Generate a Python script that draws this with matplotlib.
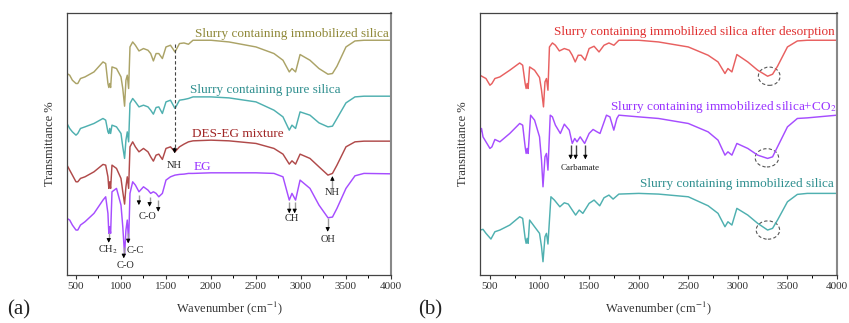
import matplotlib
matplotlib.use("Agg")
import matplotlib.pyplot as plt
from matplotlib.patches import Ellipse

plt.rcParams['font.family'] = ['Liberation Serif', 'DejaVu Serif']
plt.rcParams['mathtext.fontset'] = 'stix'

# ---------------- Panel (a) data ----------------
wn_a = [400, 430, 460, 500, 520, 550, 600, 700, 800, 830, 855, 865, 875, 885, 900, 950, 1000, 1020, 1040,
        1055, 1070, 1085, 1100, 1130, 1160, 1200, 1250, 1300, 1330, 1360, 1390, 1420, 1460, 1500, 1550,
        1600, 1650, 1700, 1750, 1800, 2000, 2200, 2500, 2700, 2800, 2870, 2900, 2940, 2990, 3100, 3200,
        3300, 3350, 3400, 3500, 3600, 3700, 4000]
eg = [56.7, 55, 50, 45, 45, 50, 53.3, 61.7, 75, 78.3, 61.7, 41.7, 48.3, 41.7, 83.3, 86.7, 70, 48.3, 20,
      45, 55, 33.3, 81.7, 93.3, 90, 83.3, 88.3, 85, 81.7, 83.3, 81.7, 78.3, 81.7, 95, 98.3,
      100, 100.7, 101, 101.7, 101.7, 102.3, 102.3, 102.3, 101.7, 98.3, 75, 81.7, 75, 95, 86.7, 70,
      57.3, 58, 66.7, 86.7, 99.3, 101.7, 101.3]
des_eg = [110, 105, 100, 93.3, 93.3, 96.7, 98.3, 103.3, 110.7, 110, 98.3, 86.7, 93.3, 86.7, 110, 106.7, 96.7, 83.3, 71,
          88.3, 98.3, 86.7, 128.3, 133.3, 128.3, 123.3, 126.7, 123.3, 118.3, 114, 120, 121, 115.7, 126.7, 128.3,
          123.3, 128.3, 131, 133.3, 134.3, 135, 134.3, 131.7, 126.7, 121, 111, 114.3, 111, 121, 116.7, 108.3,
          100, 101.7, 110, 128.3, 133.3, 134, 134]
pure_silica = [151.7, 146.7, 143.3, 140, 141.7, 146.7, 148.3, 151.7, 156.7, 155, 143.3, 141.7, 146.7, 141.7, 150, 148.3, 141.7, 128.3, 116.7,
               135, 143.3, 133.3, 171.7, 176.7, 173.3, 168.3, 170, 168.3, 165, 161, 167.7, 168.3, 161.7, 173.3, 175,
               166.7, 175, 175.7, 176.7, 178.3, 178.3, 177.3, 173.3, 165, 158.3, 145, 150, 146.7, 163.3, 160, 152.3,
               148.3, 149, 156.7, 172.3, 178.3, 179, 179]
immob_silica = [201.7, 200, 195, 191.7, 191.7, 196.7, 198.3, 203.3, 213.3, 211.7, 191.7, 187.7, 191.7, 187.7, 208.3, 206.7, 198.3, 186.7, 169,
                195, 200, 186.7, 228.3, 233.3, 230, 224.3, 226.7, 225, 221.7, 214.3, 221.7, 221.7, 216.7, 228.3, 230,
                223.3, 231.7, 232.3, 231, 235, 235, 233.3, 228.3, 221.7, 215, 203.3, 206.7, 203.3, 220.7, 215, 206.7,
                201, 201.7, 209, 228.3, 234.3, 235, 235]

# ---------------- Panel (b) data ----------------
wn_b_red = wn_a
after_desorption = [200, 198.3, 196.7, 190, 191.7, 196.7, 198.3, 205, 212.3, 210, 191.7, 186.7, 191.7, 186.7, 208.3, 205, 197.7, 185, 168.3,
                    193.3, 196.7, 185, 228.3, 232.3, 230, 224.3, 226.7, 225, 220, 213.3, 220, 220, 215, 226.7, 229,
                    223.3, 230, 232.3, 230, 235, 235, 233.3, 228.3, 220, 213.3, 201.7, 206.7, 203.3, 220.7, 213.3, 205,
                    199, 201, 209, 228.3, 234.3, 235, 235]
wn_b_co2 = [400, 415, 430, 460, 500, 520, 550, 600, 700, 750, 800, 830, 855, 865, 875, 885, 910, 950, 1000, 1020,
            1035, 1055, 1070, 1085, 1108, 1130, 1160, 1210, 1250, 1300, 1330, 1355, 1378, 1410, 1455, 1500, 1540,
            1580, 1610, 1675, 1710, 1749, 1780, 1800, 2000, 2200, 2500, 2700, 2800, 2870, 2900, 2940, 2990, 3100,
            3200, 3300, 3350, 3400, 3500, 3600, 3700, 4000]
with_co2 = [141.7, 146.7, 138.3, 133.3, 126.7, 128.3, 135.7, 133.3, 141.7, 146.7, 151.7, 150, 128.3, 121.7, 126.7, 121.7, 160, 155, 138.3, 115,
            88.3, 118.3, 121.7, 105, 160, 158.3, 150, 141.7, 151, 145, 131.7, 136.7, 133.3, 138.3, 131.7, 141.7, 145.7,
            143.3, 141.7, 160, 158.3, 145, 156.7, 160, 158.3, 156.7, 151.7, 143.3, 135, 120, 123.3, 120, 131.7, 126.7,
            120, 116.7, 118.3, 128.3, 148.3, 156.7, 157.3, 160]
wn_b_teal = [400, 430, 460, 510, 550, 600, 700, 800, 830, 855, 865, 875, 885, 900, 950, 1000, 1020, 1035, 1055, 1070,
             1085, 1115, 1150, 1205, 1250, 1290, 1330, 1364, 1400, 1437, 1500, 1550, 1607, 1650, 1700, 1742, 1800,
             2000, 2200, 2500, 2700, 2800, 2870, 2900, 2940, 2990, 3100, 3200, 3300, 3350, 3400, 3500, 3600, 3700, 4000]
immob_b = [45, 45.7, 41.7, 36, 43.3, 45, 50, 58.3, 56.7, 36.7, 31.7, 36.7, 31.7, 55, 48.3, 41.7, 28.3, 13.3, 38.3, 41.7,
           31, 78.3, 75, 68.3, 72.3, 71, 65, 60, 65, 61.7, 71.7, 75, 69.3, 77.3, 80, 76, 81,
           81.7, 81, 78.3, 69.3, 61.7, 48.3, 53.3, 50, 66.7, 60, 51.7, 45, 46.7, 55, 73.3, 80.7, 81.7, 81.7]

xticks = [500, 1000, 1500, 2000, 2500, 3000, 3500, 4000]

C_OLIVE, C_OLIVE_T = '#aba367', '#8f8838'
C_TEAL, C_TEAL_T = '#4fb0b0', '#2f8f8f'
C_DRED, C_DRED_T = '#b04a4a', '#a02525'
C_PURP, C_PURP_T = '#a64dff', '#9933ff'
C_RED, C_RED_T = '#e86060', '#e03030'

fig = plt.figure(figsize=(8.49, 3.23), dpi=100)
ax_a = fig.add_axes([0.0789, 0.1486, 0.3816, 0.8112])
ax_b = fig.add_axes([0.5654, 0.1486, 0.4205, 0.8112])


def style(ax):
    ax.set_xlim(400, 4000)
    ax.set_ylim(0, 262.3)
    ax.set_xticks(xticks)
    ax.set_xticks(range(750, 4000, 500), minor=True)
    ax.set_yticks([])
    ax.tick_params(axis='x', direction='out', length=3, width=0.8, labelsize=8, colors='#333333', pad=2)
    ax.tick_params(axis='x', which='minor', direction='out', length=1.8, width=0.7)
    for s in ax.spines.values():
        s.set_color('#444444')
        s.set_linewidth(0.9)
    ax.spines['right'].set_color('#888888')
    ax.spines['right'].set_linewidth(1.5)
    ax.set_xlabel('Wavenumber (cm$^{-1}$)', fontsize=9, labelpad=6, color='#333333')
    ax.set_ylabel('Transmittance %', fontsize=9, labelpad=8, color='#333333')


lw = 1.05
ax_a.plot(wn_a, immob_silica, color=C_OLIVE, lw=lw)
ax_a.plot(wn_a, pure_silica, color=C_TEAL, lw=lw)
ax_a.plot(wn_a, des_eg, color=C_DRED, lw=lw)
ax_a.plot(wn_a, eg, color=C_PURP, lw=lw)
style(ax_a)

fs = 9.5
ax_a.text(3975, 241.7, 'Slurry containing immobilized silica', color=C_OLIVE_T, fontsize=fs, ha='right', va='center')
ax_a.text(1771, 185, 'Slurry containing pure silica', color=C_TEAL_T, fontsize=fs, ha='left', va='center')
ax_a.text(1793, 141, 'DES-EG mixture', color=C_DRED_T, fontsize=fs, ha='left', va='center')
ax_a.text(1812, 108.3, 'EG', color=C_PURP_T, fontsize=fs, ha='left', va='center')


def arrow(ax, x, y0, y1, shaft='#9a9a9a'):
    # gray shaft, black head
    d = 4.0 if y1 < y0 else -4.0
    ax.plot([x, x], [y0, y1 + d], color=shaft, lw=1.0, solid_capstyle='butt')
    ax.annotate('', xy=(x, y1), xytext=(x, y1 + d),
                arrowprops=dict(arrowstyle='-|>', ec='black', fc='black', lw=0.6,
                                mutation_scale=6, shrinkA=0, shrinkB=0))


afs = 7.5
# CH2
arrow(ax_a, 864, 41.7, 32.3)
ax_a.text(853, 25, 'CH$_2$', fontsize=afs, ha='center', va='center', color='#222222')
# C-O (1040)
arrow(ax_a, 1031, 28.3, 16.7)
ax_a.text(1050, 10, 'C-O', fontsize=afs, ha='center', va='center', color='#222222')
# C-C
arrow(ax_a, 1080, 41.7, 31.7)
ax_a.text(1161, 25, 'C-C', fontsize=afs, ha='center', va='center', color='#222222')
# C-O triplet
arrow(ax_a, 1199, 80, 70)
arrow(ax_a, 1318, 78.3, 68.3)
arrow(ax_a, 1414, 75, 63.3)
ax_a.text(1299, 58.3, 'C-O', fontsize=afs, ha='center', va='center', color='#222222')
# CH
arrow(ax_a, 2870, 73.3, 61.7)
arrow(ax_a, 2930, 73.3, 61.7)
ax_a.text(2900, 56.7, 'CH', fontsize=afs, ha='center', va='center', color='#222222')
# OH
arrow(ax_a, 3297, 56.7, 43.3)
ax_a.text(3305, 35.7, 'OH', fontsize=afs, ha='center', va='center', color='#222222')
# NH up
arrow(ax_a, 3349, 86.7, 99)
ax_a.text(3342, 82.3, 'NH', fontsize=afs, ha='center', va='center', color='#222222')
# NH dashed
ax_a.plot([1596, 1596], [231.7, 126], ls=(0, (3, 2)), color='#444444', lw=0.8)
ax_a.annotate('', xy=(1596, 121.7), xytext=(1596, 127),
              arrowprops=dict(arrowstyle='-|>', ec='black', fc='black', lw=0.8,
                              mutation_scale=6, shrinkA=0, shrinkB=0))
ax_a.text(1596, 110, 'NH', fontsize=afs, ha='center', va='center', color='#222222')

# ---------------- Panel (b) ----------------
ax_b.plot(wn_b_red, after_desorption, color=C_RED, lw=lw)
ax_b.plot(wn_b_co2, with_co2, color=C_PURP, lw=lw)
ax_b.plot(wn_b_teal, immob_b, color=C_TEAL, lw=lw)
style(ax_b)

ax_b.text(3977, 243.3, 'Slurry containing immobilized silica after desorption', color=C_RED_T, fontsize=fs, ha='right', va='center')
ax_b.text(3990, 168.3, 'Slurry containing immobilized silica+CO$_2$', color=C_PURP_T, fontsize=fs, ha='right', va='center')
ax_b.text(3967, 91, 'Slurry containing immobilized silica', color=C_TEAL_T, fontsize=fs, ha='right', va='center')

for (cx, cy, w) in [(3316, 199, 219), (3293, 117.3, 236), (3303, 45, 236)]:
    ax_b.add_patch(Ellipse((cx, cy), w, 18.3, fill=False, ls=(0, (3, 2)), ec='#555555', lw=0.8))

for x in [1314, 1364, 1462]:
    arrow(ax_b, x, 130, 115.7, shaft='#444444')
ax_b.text(1405, 106.7, 'Carbamate', fontsize=6.5, ha='center', va='center', color='#222222')

fig.text(0.008, 0.04, '(a)', fontsize=15, ha='left', va='center', color='#222222')
fig.text(0.493, 0.04, '(b)', fontsize=15, ha='left', va='center', color='#222222')

fig.savefig('out.png', dpi=100)
